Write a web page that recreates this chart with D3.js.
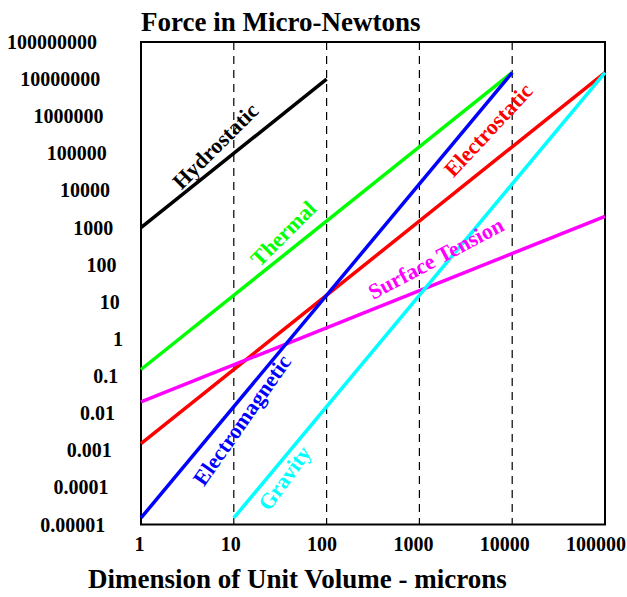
<!DOCTYPE html>
<html><head><meta charset="utf-8">
<script src="https://cdn.jsdelivr.net/npm/d3@7"></script>
<style>body{margin:0;background:#fff}svg{display:block}text{font-family:"Liberation Serif","Times New Roman",serif;font-weight:bold}</style>
</head><body>
<svg id="c" width="627" height="597"></svg>
<script>
const xTicks = [1, 10, 100, 1000, 10000, 100000];
const xTickLabels = ["1", "10", "100", "1000", "10000", "100000"];
const yTicks = [1e8, 1e7, 1e6, 1e5, 1e4, 1e3, 100, 10, 1, 0.1, 0.01, 0.001, 0.0001, 0.00001];
const yTickLabels = ["100000000", "10000000", "1000000", "100000", "10000", "1000", "100", "10", "1", "0.1", "0.01", "0.001", "0.0001", "0.00001"];
const gridX = [10, 100, 1000, 10000];

const seriesNames = ["Hydrostatic", "Thermal", "Electrostatic", "Surface Tension", "Electromagnetic", "Gravity"];
const hydrostatic = [[1, 1000], [100, 1e7]];
const thermal = [[1, 0.15], [10000, 1.5e7]];
const electrostatic = [[1, 0.0015], [100000, 1.5e7]];
const surfaceTension = [[1, 0.02], [100000, 2000]];
const electromagnetic = [[1, 1.5e-5], [10000, 1.5e7]];
const gravity = [[10, 1.5e-5], [100000, 1.5e7]];
// label anchor points (data space) and label angles
const labelAt = [[6.3, 1.6e5], [34, 700], [5500, 4.3e5], [1500, 150], [12.2, 0.0066], [35, 1.8e-4]];
const labelAngle = [-45, -45, -47, -28, -55, -54];
const colors = ["#000000", "#00ff00", "#ff0000", "#ff00ff", "#0000ff", "#00ffff"];

const series = [hydrostatic, thermal, electrostatic, surfaceTension, electromagnetic, gravity];

const svg = d3.select("#c");
const L = 141, R = 605, T = 42, B = 524.5;
const x = d3.scaleLog().domain([1, 1e5]).range([L, R]);
const y = d3.scaleLog().domain([1e-5, 1e8]).range([B, T]);

// dashed grid
svg.append("g").selectAll("line").data(gridX).join("line")
  .attr("x1", d => x(d)).attr("x2", d => x(d)).attr("y1", T).attr("y2", B)
  .attr("stroke", "#000").attr("stroke-width", 1.2).attr("stroke-dasharray", "8,6");

// box
svg.append("rect").attr("x", L).attr("y", T).attr("width", R - L).attr("height", B - T)
  .attr("fill", "none").attr("stroke", "#000").attr("stroke-width", 2);

// lines
const line = d3.line().x(d => x(d[0])).y(d => y(d[1]));
svg.append("g").selectAll("path").data(series).join("path")
  .attr("d", line).attr("fill", "none")
  .attr("stroke", (d, i) => colors[i]).attr("stroke-width", 3.5).attr("stroke-linecap", "butt");

// series labels
svg.append("g").selectAll("text").data(seriesNames).join("text")
  .attr("transform", (d, i) => `translate(${x(labelAt[i][0])},${y(labelAt[i][1])}) rotate(${labelAngle[i]})`)
  .attr("text-anchor", "middle").attr("dy", "0.35em")
  .attr("font-size", 22).attr("fill", (d, i) => colors[i]).text(d => d);

// y tick labels
svg.append("g").selectAll("text").data(yTicks).join("text")
  .attr("y", d => y(d)).attr("dy", "0.35em").attr("font-size", 20).attr("text-anchor", "end")
  .text((d, i) => yTickLabels[i])
  .each(function () { const w = this.getComputedTextLength(); d3.select(this).attr("x", 126.25 - 0.325 * w); });

// x tick labels
svg.append("g").selectAll("text").data(xTicks).join("text")
  .attr("y", 551).attr("font-size", 20).attr("text-anchor", "start")
  .text((d, i) => xTickLabels[i])
  .each(function (d) { const w = this.getComputedTextLength(); d3.select(this).attr("x", x(d) - 0.65 * w); });

// titles
svg.append("text").attr("x", 141).attr("y", 31).attr("font-size", 27).text("Force in Micro-Newtons");
svg.append("text").attr("x", 88).attr("y", 588).attr("font-size", 27).text("Dimension of Unit Volume - microns");
</script>
</body></html>
